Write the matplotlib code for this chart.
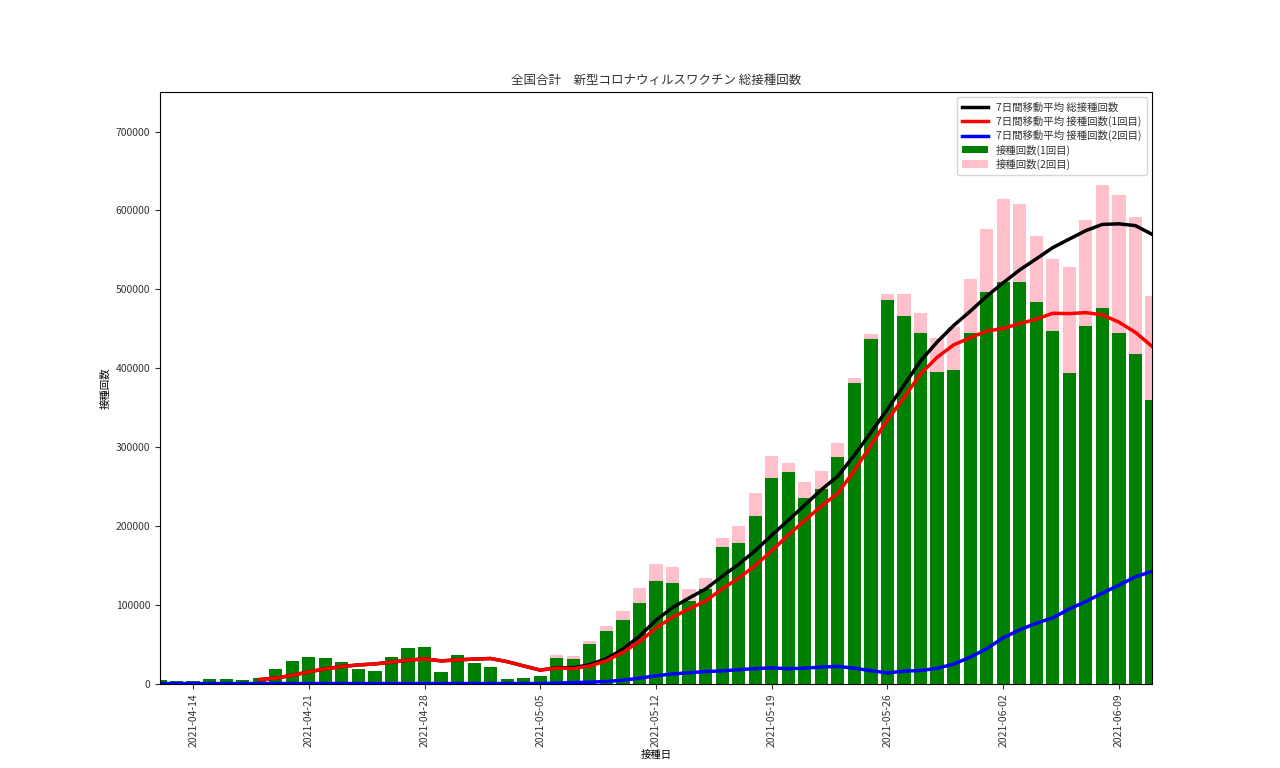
import pandas as pd
import matplotlib.pyplot as plt
import matplotlib.dates as mdates

plt.rcParams['font.family'] = ['Noto Sans CJK JP', 'DejaVu Sans']
plt.rcParams['font.size'] = 7.5
plt.rcParams['text.color'] = '#333333'
plt.rcParams['xtick.color'] = '#333333'
plt.rcParams['ytick.color'] = '#333333'

# Daily doses, 2021-04-12 .. 2021-06-11
dates = pd.date_range('2021-04-12', '2021-06-11', freq='D')
dose1 = [5000, 3000, 3000, 6000, 6000, 5000, 7000, 18000, 28000, 34000,
         32000, 27000, 19000, 16000, 34000, 45000, 46000, 14000, 36000, 26000,
         21000, 6000, 7000, 9000, 32000, 31000, 50000, 67000, 81000, 102000,
         130000, 128000, 105000, 120000, 173000, 178000, 213000, 261000, 268000, 235000,
         247000, 287000, 381000, 437000, 486000, 466000, 444000, 395000, 397000, 445000,
         496000, 509000, 509000, 484000, 447000, 394000, 454000, 476000, 444000, 418000,
         360000]
total = [5000, 3000, 3000, 6000, 6000, 5000, 7000, 18000, 28000, 34000,
         32000, 27000, 19000, 16000, 34000, 45000, 46000, 14000, 36000, 26000,
         21000, 6000, 7000, 9000, 36000, 35000, 54000, 73000, 92000, 121000,
         151000, 148000, 120000, 134000, 185000, 200000, 241000, 289000, 280000, 256000,
         270000, 305000, 387000, 443000, 494000, 494000, 470000, 438000, 452000, 513000,
         577000, 614000, 608000, 568000, 538000, 528000, 588000, 632000, 619000, 592000,
         491000]

df = pd.DataFrame({'dose1': dose1, 'total': total}, index=dates)
df['dose2'] = df['total'] - df['dose1']
ma = df.rolling(7).mean()

fig, ax = plt.subplots(figsize=(12.8, 7.68), dpi=100)
ax.bar(df.index, df['dose1'], color='green', label='接種回数(1回目)')
ax.bar(df.index, df['dose2'], bottom=df['dose1'], color='pink', label='接種回数(2回目)')
ax.plot(ma.index, ma['total'], color='black', lw=2.5, label='7日間移動平均 総接種回数')
ax.plot(ma.index, ma['dose1'], color='red', lw=2.5, label='7日間移動平均 接種回数(1回目)')
ax.plot(ma.index, ma['dose2'].fillna(0), color='blue', lw=2.5, label='7日間移動平均 接種回数(2回目)')

ax.set_xlim(dates[0], dates[-1])
ax.set_ylim(0, 750000)
ax.xaxis.set_major_locator(mdates.WeekdayLocator(byweekday=mdates.WE))
ax.xaxis.set_major_formatter(mdates.DateFormatter('%Y-%m-%d'))
ax.ticklabel_format(axis='y', style='plain')
plt.setp(ax.get_xticklabels(), rotation=90)
ax.set_title('全国合計　新型コロナウィルスワクチン 総接種回数')
ax.set_xlabel('接種日', labelpad=2)
ax.set_ylabel('接種回数')
ax.legend(loc='upper right', handlelength=2.5, borderpad=0.5, labelspacing=0.3)
plt.savefig('out.png')
